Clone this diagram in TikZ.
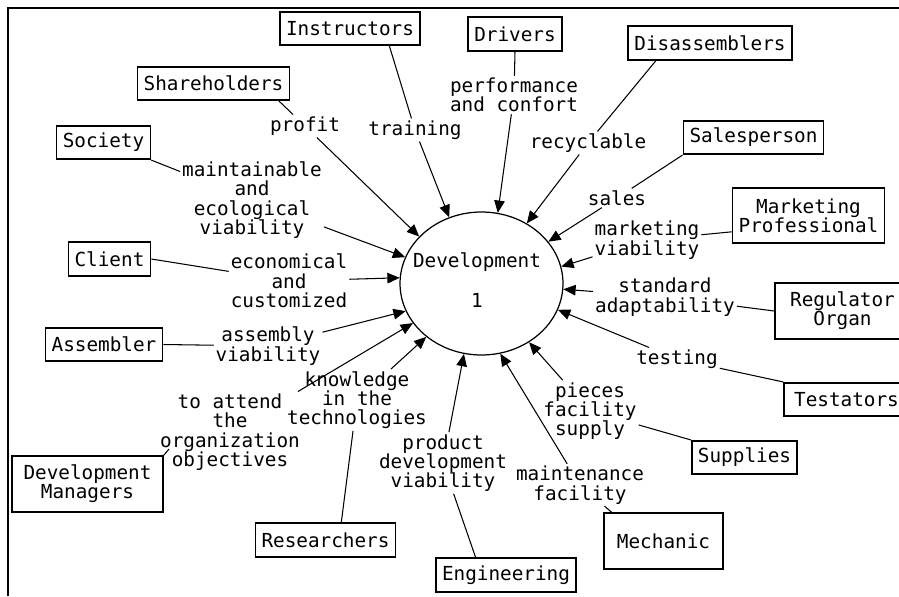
\documentclass[tikz,border=0pt]{standalone}
\usepackage{fontspec}
\usepackage{tikz}
\usetikzlibrary{shapes.geometric, arrows.meta}
\newfontfamily\pixfont{DejaVu Sans Mono}
\tikzset{
	>={Triangle[length=7pt,width=6pt]}, % filled arrow heads
	every node/.style={font=\pixfont\fontsize{11}{11}\selectfont, align=center},
	actor/.style={draw, line width=0.9pt, inner sep=3.5pt, minimum height=0.67cm}, % the boxes round the picture
	need/.style={inner sep=1pt}, % the texts on the connectors
	link/.style={line width=0.6pt},
}
\begin{document}
\begin{tikzpicture}[x=0.02cm, y=-0.02cm]
	\useasboundingbox (0,0) rectangle (899,596);
	\clip (0,0) rectangle (899,596);
	\draw[line width=1.1pt] (8,596) -- (8,8) -- (899,8);
			\node[ellipse, draw, line width=0.7pt, minimum width=3.26cm, minimum height=2.86cm] (dev) at (481.5,283.5) {};
			\node (devname) at (477,262) {Development};
			\node (devnum) at (477,300) {1};
			\node[actor] (instr) at (350,28.5) {Instructors};
			\node[actor] (share) at (213.5,83.5) {Shareholders};
			\node[actor] (soc) at (103.5,142.5) {Society};
			\node[actor] (client) at (109.5,259) {Client};
			\node[actor] (asm) at (104,344.5) {Assembler};
			\node[actor, minimum width=3.02cm, minimum height=1.12cm] (devman) at (87.5,484) {Development\\Managers};
			\node[actor] (res) at (325.5,540) {Researchers};
			\node[actor] (eng) at (506,575) {Engineering};
			\node[actor, minimum width=2.38cm, minimum height=1.12cm] (mech) at (663.5,541) {Mechanic};
			\node[actor] (sup) at (744.5,457.5) {Supplies};
			\node[actor, minimum width=2.5cm] (test) at (846.5,399.5) {Testators};
			\node[actor, minimum width=2.7cm, minimum height=1.12cm] (reg) at (842.5,311) {Regulator\\Organ};
			\node[actor, minimum height=1.1cm] (mkt) at (808.5,215.5) {Marketing\\Professional};
			\node[actor] (sales) at (753.5,137.5) {Salesperson};
			\node[actor] (dis) at (710,43) {Disassemblers};
			\node[actor] (drv) at (515,34) {Drivers};
			\node[need] (training) at (415,130) {training};
			\node[need] (profit) at (305,126) {profit};
			\node[need] (perf) at (514,95) {performance\\and confort};
			\node[need] (recyc) at (588,143) {recyclable};
			\node[need] (saleslbl) at (617,198) {sales};
			\node[need] (mktv) at (647,240) {marketing\\viability};
			\node[need] (stand) at (665,297) {standard\\adaptability};
			\node[need] (testing) at (677,359) {testing};
			\node[need] (pieces) at (590,411) {pieces\\facility\\supply};
			\node[need] (maint) at (580,485) {maintenance\\facility};
			\node[need] (prod) at (443,463) {product\\development\\viability};
			\node[need] (know) at (357,400) {knowledge\\in the\\technologies};
			\node[need] (attend) at (230,432) {to attend\\the\\organization\\objectives};
			\node[need] (asmv) at (268,346) {assembly\\viability};
			\node[need] (econ) at (289,281) {economical\\and\\customized};
			\node[need] (maintv) at (252,200) {maintainable\\and\\ecological\\viability};
			\coordinate (objtick) at (169,449);
	\draw[link] (instr.-24) -- (training)
			(share.-15) -- (profit)
			(soc.south east) -- (maintv)
			(client.east) -- (econ)
			(asm.east) -- (asmv)
			(devman.north east) -- (objtick)
			(res.48) -- (know)
			(eng.150) -- (prod)
			(mech.151) -- (maint)
			(sup.north west) -- (pieces)
			(test.north west) -- (testing)
			(reg.west) -- (stand)
			(mkt.192) -- (mktv)
			(sales.south west) -- (saleslbl)
			(dis.-162) -- (recyc)
			(drv.south) -- (perf);
	\draw[link, ->] (training) -- (dev.116);
	\draw[link, ->] (profit) -- (dev.143);
	\draw[link, ->] (maintv) -- (dev.161);
	\draw[link, ->] (econ) -- (dev.176);
	\draw[link, ->] (asmv) -- (dev.-160);
	\draw[link, ->] (attend) -- (dev.-150);
	\draw[link, ->] (know) -- (dev.-136);
	\draw[link, ->] (prod) -- (dev.-104);
	\draw[link, ->] (maint) -- (dev.-75);
	\draw[link, ->] (pieces) -- (dev.-51);
	\draw[link, ->] (testing) -- (dev.-19);
	\draw[link, ->] (stand) -- (dev.-4);
	\draw[link, ->] (mktv) -- (dev.12);
	\draw[link, ->] (saleslbl) -- (dev.32);
	\draw[link, ->] (recyc) -- (dev.53);
	\draw[link, ->] (perf) -- (dev.77);
\end{tikzpicture}
\end{document}
